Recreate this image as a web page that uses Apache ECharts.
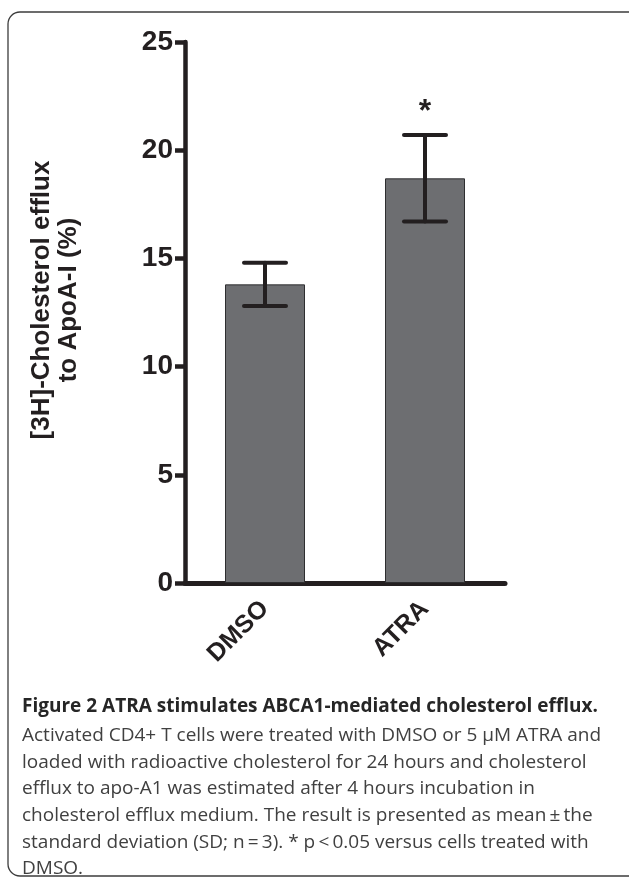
<!DOCTYPE html>
<html>
<head>
<meta charset="utf-8">
<title>ATRA stimulates ABCA1-mediated cholesterol efflux</title>
<script src="https://cdn.jsdelivr.net/npm/echarts@6/dist/echarts.min.js"></script>
<style>
  html, body { margin: 0; padding: 0; background: #ffffff; }
  #chart { width: 629px; height: 878px; }
</style>
</head>
<body>
<div id="chart"></div>
<script>
// Treatment groups and measured efflux (mean and SD, n = 3)
const categories = ['DMSO', 'ATRA'];
const meanEfflux = [13.8, 18.7];
const sdEfflux = [1.0, 2.0];
const significance = ['', '*'];

// Value axis range
const yMin = 0;
const yMax = 25;
const yStep = 5;

const yTitleLines = ['[3H]-Cholesterol efflux', 'to ApoA-I (%)'];
const captionTitle = 'Figure 2 ATRA stimulates ABCA1-mediated cholesterol efflux.';
const captionLines = [
  'Activated CD4+ T cells were treated with DMSO or 5 \u00b5M ATRA and',
  'loaded with radioactive cholesterol for 24 hours and cholesterol',
  'efflux to apo-A1 was estimated after 4 hours incubation in',
  'cholesterol efflux medium. The result is presented as mean\u2009\u00b1\u2009the',
  'standard deviation (SD; n\u2009=\u20093). * p\u2009<\u20090.05 versus cells treated with',
  'DMSO.'
];

const INK = '#231f20';
const AXIS_FONT = "'Liberation Sans', Arial, sans-serif";
const CAPTION_FONT = "'Open Sans', 'Noto Sans', sans-serif";

const errorData = categories.map((c, i) => [i, meanEfflux[i] - sdEfflux[i], meanEfflux[i] + sdEfflux[i]]);

const chart = echarts.init(document.getElementById('chart'), null, { renderer: 'canvas' });

const captionGraphics = [
  {
    type: 'text', left: 22, top: 697,
    style: { text: captionTitle, font: "bold 19px " + CAPTION_FONT, fill: '#262626' }
  }
].concat(captionLines.map((line, i) => ({
  type: 'text', left: 22, top: 726 + i * 26.7,
  style: { text: line, font: "19px " + CAPTION_FONT, fill: '#404040' }
})));

chart.setOption({
  animation: false,
  backgroundColor: '#ffffff',
  grid: { left: 185, right: 124, top: 42, bottom: 295, containLabel: false },
  xAxis: {
    type: 'category',
    data: categories,
    axisLine: { lineStyle: { color: INK, width: 5 } },
    axisTick: { alignWithLabel: true, length: 12, lineStyle: { color: INK, width: 4.5 } },
    axisLabel: {
      rotate: 45, margin: 22, color: INK,
      fontSize: 25, fontWeight: 'bold', fontFamily: AXIS_FONT
    },
    splitLine: { show: false }
  },
  yAxis: {
    type: 'value',
    min: yMin, max: yMax, interval: yStep,
    axisLine: { show: true, lineStyle: { color: INK, width: 4.5 } },
    axisTick: { show: true, length: 10, lineStyle: { color: INK, width: 4.5 } },
    axisLabel: {
      margin: 12, color: INK,
      fontSize: 28, fontWeight: 'bold', fontFamily: AXIS_FONT
    },
    splitLine: { show: false }
  },
  series: [
    {
      type: 'bar',
      data: meanEfflux,
      barWidth: 80,
      itemStyle: { color: '#6d6e71', borderColor: '#2e2e30', borderWidth: 1 },
      z: 2
    },
    {
      type: 'custom',
      data: errorData,
      z: 3,
      renderItem(params, api) {
        const xi = api.value(0);
        const lo = api.coord([xi, api.value(1)]);
        const hi = api.coord([xi, api.value(2)]);
        const half = 21;
        const style = { stroke: INK, lineWidth: 4, lineCap: 'round' };
        const children = [
          { type: 'line', shape: { x1: lo[0], y1: lo[1], x2: hi[0], y2: hi[1] }, style },
          { type: 'line', shape: { x1: lo[0] - half, y1: lo[1], x2: lo[0] + half, y2: lo[1] }, style },
          { type: 'line', shape: { x1: hi[0] - half, y1: hi[1], x2: hi[0] + half, y2: hi[1] }, style }
        ];
        const mark = significance[params.dataIndex];
        if (mark) {
          children.push({
            type: 'text',
            style: {
              text: mark, x: hi[0], y: hi[1] - 23,
              align: 'center', verticalAlign: 'middle',
              font: "bold 32px " + AXIS_FONT, fill: INK
            }
          });
        }
        return { type: 'group', children };
      }
    }
  ],
  graphic: [
    {
      type: 'rect',
      shape: { x: 8, y: 12, width: 660, height: 864, r: 12 },
      style: { fill: 'none', stroke: '#3c3c3c', lineWidth: 1.3 },
      silent: true
    },
    {
      type: 'text',
      x: 55, y: 300,
      rotation: Math.PI / 2,
      style: {
        text: yTitleLines.join('\n'),
        font: "bold 26px " + AXIS_FONT,
        lineHeight: 27,
        align: 'center', verticalAlign: 'middle',
        fill: INK
      }
    }
  ].concat(captionGraphics)
});
</script>
</body>
</html>
